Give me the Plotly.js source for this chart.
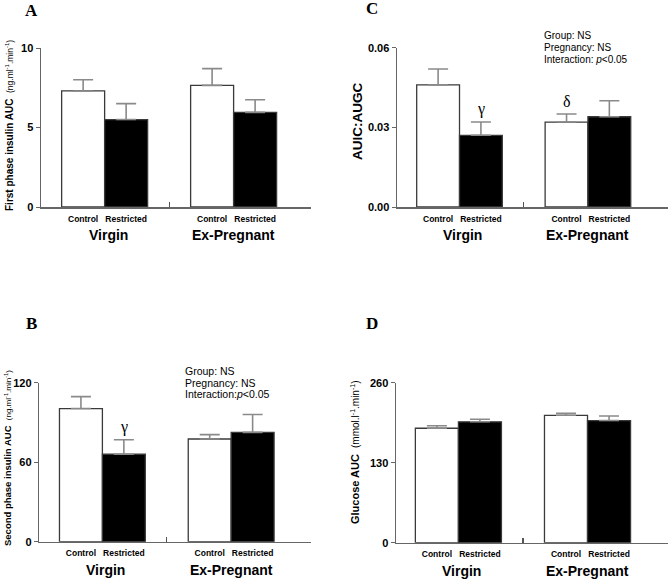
<!DOCTYPE html>
<html>
<head>
<meta charset="utf-8">
<script src="https://cdn.plot.ly/plotly-3.0.1.min.js"></script>
<style>html,body{margin:0;padding:0;background:#fff;}#chart{width:670px;height:582px;}</style>
</head>
<body>
<div id="chart"></div>
<script>
// ---------- data ----------
const categories = ['Virgin|Control', 'Virgin|Restricted', 'Ex-Pregnant|Control', 'Ex-Pregnant|Restricted'];
const conditionLabels = ['Control', 'Restricted', 'Control', 'Restricted'];
const groupLabels = ['Virgin', 'Ex-Pregnant'];
const barColors = ['#ffffff', '#000000', '#ffffff', '#000000'];

const firstPhaseMean = [7.3, 5.5, 7.65, 5.95];
const firstPhaseSem = [0.7, 1.0, 1.05, 0.8];

const secondPhaseMean = [100.5, 66, 77.5, 82.5];
const secondPhaseSem = [9, 11, 3.3, 13.5];

const ratioMean = [0.046, 0.027, 0.032, 0.034];
const ratioSem = [0.006, 0.005, 0.003, 0.006];

const glucoseMean = [186, 196.5, 207, 198.5];
const glucoseSem = [4, 4, 3.3, 7.5];

const statsLinesB = ['Group: NS', 'Pregnancy: NS', 'Interaction:<i>p</i>&lt;0.05'];
const statsLinesC = ['Group: NS', 'Pregnancy: NS', 'Interaction: <i>p</i>&lt;0.05'];

// ---------- layout helpers ----------
const W = 670, H = 582;
const fx = p => p / W;
const fy = p => 1 - p / H;
const SANS = 'Liberation Sans, Arial, sans-serif';
const SERIF = 'Liberation Serif, Times New Roman, serif';
const GAP = 'gap';
const catOrder = [categories[0], categories[1], GAP, categories[2], categories[3]];
const tickText = [conditionLabels[0], conditionLabels[1], '', conditionLabels[2], conditionLabels[3]];

const panels = [
  {id: '', sep: '5', letter: 'A', mean: firstPhaseMean, sem: firstPhaseSem, yr: [0, 10], yt: [0, 5, 10], ytt: ['0', '5', '10'],
   x0: 41, x1: 311, yTop: 48, yBot: 207, xr: [-0.98, 5.3], letterPos: [31, 10],
   ytitle: '<b>First phase insulin AUC</b>  <span style="font-size:8.5px">(ng.ml<sup>-1</sup>.min<sup>-1</sup>)</span>', ytSize: 10, ytX: 9, ytY: 126},
  {id: '2', sep: '6', letter: 'C', mean: ratioMean, sem: ratioSem, yr: [0, 0.06], yt: [0, 0.03, 0.06], ytt: ['0.00', '0.03', '0.06'],
   x0: 397, x1: 668, yTop: 47.7, yBot: 207, xr: [-0.96, 5.37], letterPos: [372, 9],
   ytitle: '<b>AUIC:AUGC</b>', ytSize: 13.5, ytX: 357, ytY: 122},
  {id: '3', sep: '7', letter: 'B', mean: secondPhaseMean, sem: secondPhaseSem, yr: [0, 120], yt: [0, 60, 120], ytt: ['0', '60', '120'],
   x0: 39.3, x1: 311, yTop: 382.7, yBot: 541.7, xr: [-0.97, 5.36], letterPos: [31, 323],
   ytitle: '<b>Second phase insulin AUC</b>  <span style="font-size:8px">(ng.ml<sup>-1</sup>.min<sup>-1</sup>)</span>', ytSize: 9.5, ytX: 7, ytY: 458},
  {id: '4', sep: '8', letter: 'D', mean: glucoseMean, sem: glucoseSem, yr: [0, 260], yt: [0, 130, 260], ytt: ['0', '130', '260'],
   x0: 396, x1: 668, yTop: 382.7, yBot: 542.7, xr: [-0.95, 5.37], letterPos: [372, 323],
   ytitle: '<b>Glucose AUC</b>  <span style="font-size:10px">(mmol.l<sup>-1</sup>.min<sup>-1</sup>)</span>', ytSize: 11, ytX: 355, ytY: 452}
];

const traces = [];
const layout = {
  width: W, height: H,
  margin: {l: 0, r: 0, t: 0, b: 0},
  paper_bgcolor: '#ffffff', plot_bgcolor: 'rgba(0,0,0,0)',
  showlegend: false, bargap: 0,
  font: {family: SANS, color: '#000'},
  annotations: []
};

panels.forEach(p => {
  const xa = 'x' + p.id, ya = 'y' + p.id;
  traces.push({
    type: 'bar', x: categories, y: p.mean, xaxis: xa, yaxis: ya, width: 1,
    marker: {color: barColors, line: {color: '#3a3a3a', width: 1.3}},
    error_y: {type: 'data', symmetric: false, array: p.sem, arrayminus: p.sem.map(() => 0),
              color: '#8a8a8a', thickness: 1.6, width: 10},
    hoverinfo: 'none'
  });
  const common = {
    domain: [fx(p.x0), fx(p.x1)], anchor: ya, type: 'category',
    categoryorder: 'array', categoryarray: catOrder, range: p.xr,
    showgrid: false, zeroline: false, fixedrange: true
  };
  layout['xaxis' + p.id] = Object.assign({}, common, {
    tickmode: 'array', tickvals: catOrder, ticktext: tickText, ticks: '',
    showline: true, linecolor: '#666', linewidth: 1.5,
    tickfont: {family: SANS, size: 8.5, weight: 'bold', color: '#000'},
    ticklabelstandoff: 3
  });
  // overlay axis that only draws the small group-separator tick
  layout['xaxis' + p.sep] = Object.assign({}, common, {
    overlaying: xa, tickmode: 'array', tickvals: [GAP], ticktext: [''],
    ticks: 'inside', ticklen: 5, tickwidth: 1.2, tickcolor: '#555',
    showline: false, showticklabels: false
  });
  traces.push({
    type: 'scatter', mode: 'markers', x: [GAP], y: [null], xaxis: 'x' + p.sep, yaxis: ya,
    marker: {opacity: 0}, hoverinfo: 'none', showlegend: false
  });
  layout['yaxis' + p.id] = {
    domain: [fy(p.yBot), fy(p.yTop)], anchor: xa, range: p.yr,
    tickmode: 'array', tickvals: p.yt, ticktext: p.ytt,
    ticks: 'outside', ticklen: 4, tickwidth: 1, tickcolor: '#666',
    showline: true, linecolor: '#666', linewidth: 1.5,
    showgrid: false, zeroline: false, fixedrange: true,
    tickfont: {family: SANS, size: 11, weight: 'bold', color: '#000'}
  };
  // group labels
  [0.5, 3.5].forEach((pos, i) => {
    layout.annotations.push({
      xref: xa, yref: ya + ' domain', x: pos + (i === 0 ? 0.08 : 0), y: -28 / (p.yBot - p.yTop), yanchor: 'middle', xanchor: 'center',
      text: '<b>' + groupLabels[i] + '</b>', showarrow: false,
      font: {family: SANS, size: 14, color: '#000'}
    });
  });
  // panel letter
  layout.annotations.push({
    xref: 'paper', yref: 'paper', x: fx(p.letterPos[0]), y: fy(p.letterPos[1]), xanchor: 'center', yanchor: 'middle',
    text: '<b>' + p.letter + '</b>', showarrow: false, font: {family: SERIF, size: 17, color: '#000'}
  });
  // y title
  layout.annotations.push({
    xref: 'paper', yref: 'paper', x: fx(p.ytX), y: fy(p.ytY), xanchor: 'center', yanchor: 'middle',
    textangle: -90, text: p.ytitle, showarrow: false, font: {family: SANS, size: p.ytSize, color: '#000'}
  });
});

// significance markers (placed above error bars)
function marker(xa, ya, idx, mean, sem, sym) {
  layout.annotations.push({
    xref: xa, yref: ya, x: categories[idx], y: mean[idx] + sem[idx], yanchor: 'bottom', yshift: 2,
    text: sym, showarrow: false, font: {family: SERIF, size: 16, color: '#000'}
  });
}
marker('x2', 'y2', 1, ratioMean, ratioSem, 'γ');
marker('x2', 'y2', 2, ratioMean, ratioSem, 'δ');
marker('x3', 'y3', 1, secondPhaseMean, secondPhaseSem, 'γ');

// stats text blocks
function statsBlock(lines, xLeft, yFirst, step, size) {
  lines.forEach((t, i) => {
    layout.annotations.push({
      xref: 'paper', yref: 'paper', x: fx(xLeft), y: fy(yFirst + i * step), xanchor: 'left', yanchor: 'middle',
      text: t, showarrow: false, font: {family: SANS, size: size, color: '#000'}
    });
  });
}
statsBlock(statsLinesC, 542, 35.7, 11.8, 10);
statsBlock(statsLinesB, 183, 371, 11.7, 10.5);

Plotly.newPlot('chart', traces, layout, {staticPlot: true, displayModeBar: false});
</script>
</body>
</html>
